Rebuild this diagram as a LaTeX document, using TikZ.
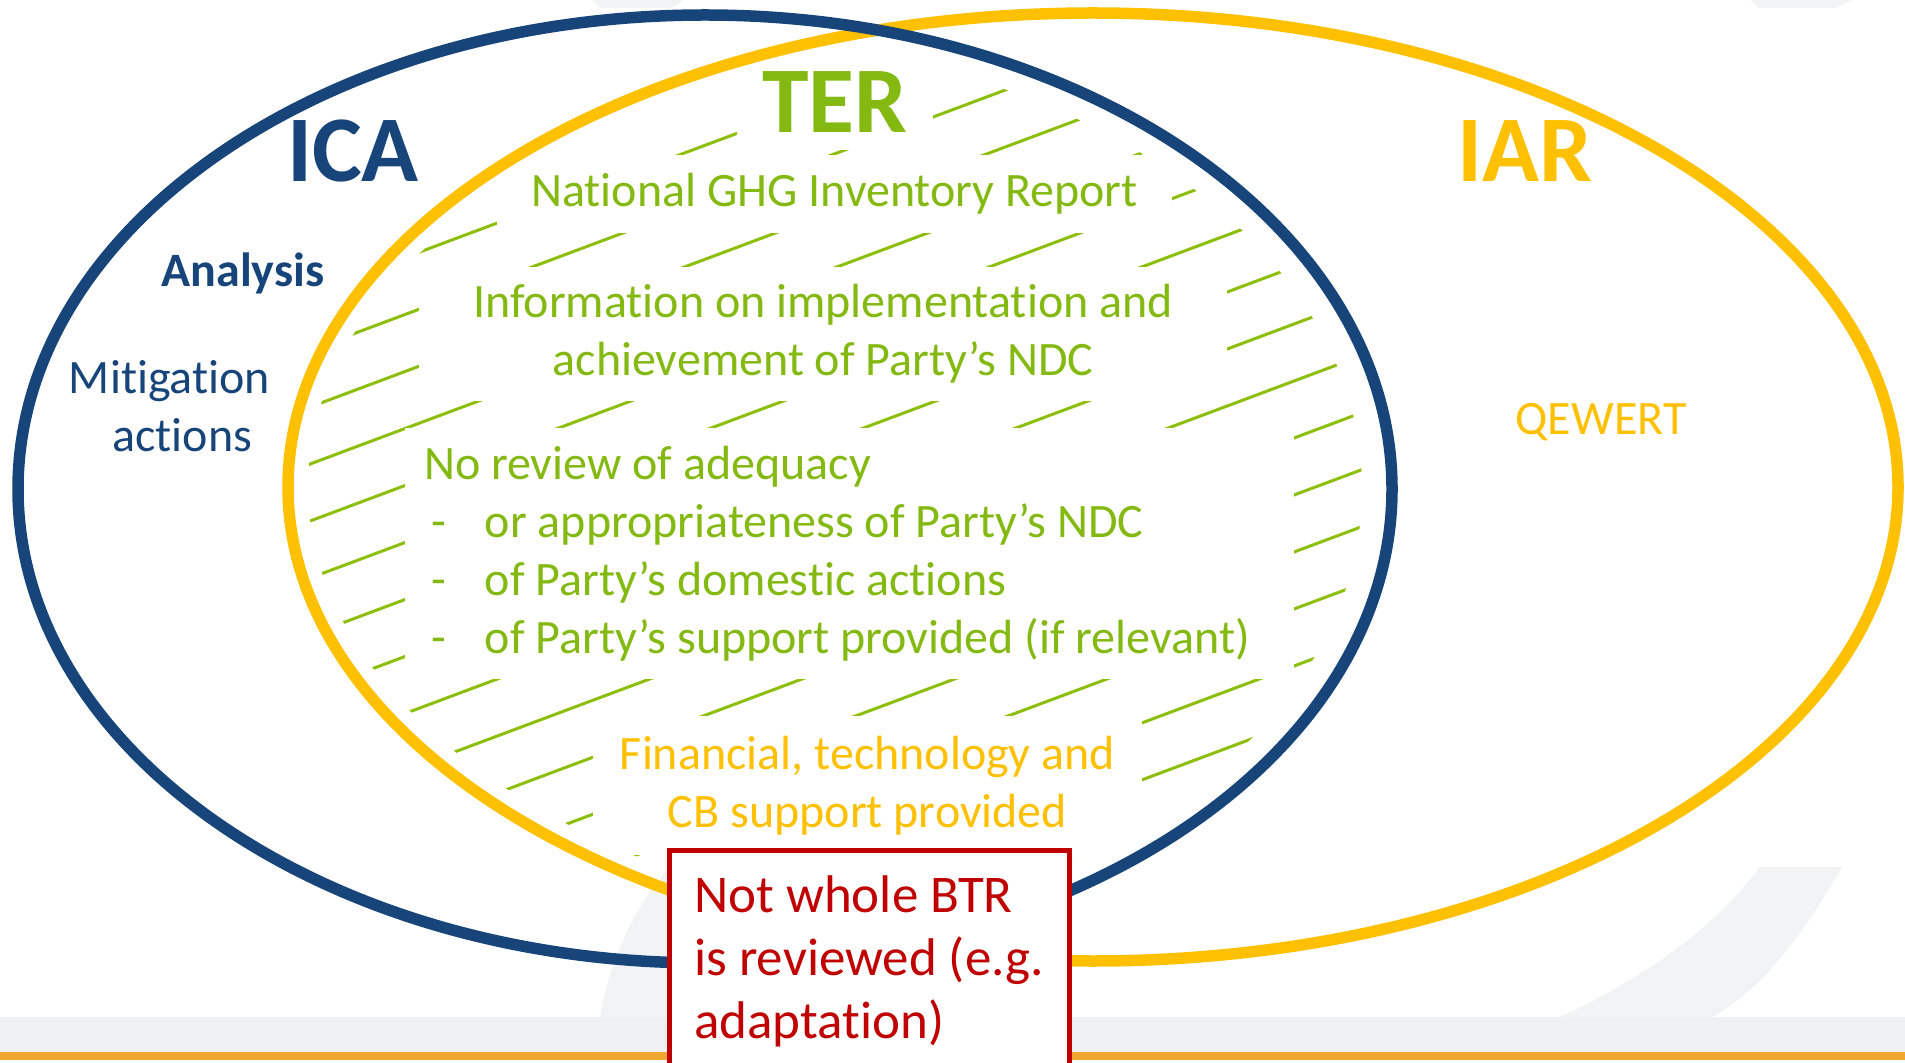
\documentclass[tikz,border=0pt]{standalone}
\usepackage{fontspec}
\setmainfont{Carlito}[Ligatures=NoCommon]
\usetikzlibrary{positioning}
\definecolor{icablue}{RGB}{23,69,122}
\definecolor{iaryellow}{RGB}{255,192,0}
\definecolor{tergreen}{RGB}{132,185,18}
\definecolor{hatchgreen}{RGB}{140,190,10}
\definecolor{btrred}{RGB}{192,0,0}
\definecolor{bandgray}{RGB}{239,240,241}
\definecolor{markgray}{RGB}{242,243,244}
\definecolor{bandorange}{RGB}{240,168,48}

\begin{document}
\begin{tikzpicture}[
    x=0.5pt, y=-0.5pt,
    ring/.style={line width=5.75pt},
    hatch/.style={draw=hatchgreen, line width=1.5pt},
    cover/.style={fill=white, inner sep=0pt, align=center},
    body/.style={font=\fontsize{24}{29}\selectfont},
    title/.style={font=\fontsize{47}{56}\selectfont\bfseries},
    redbox/.style={draw=btrred, line width=2.5pt, fill=white, text=btrred, align=flush left,
      minimum width=200pt, inner xsep=11pt, inner ysep=13pt, outer sep=0pt,
      font=\fontsize{26.5}{31.5}\selectfont}
  ]
    \useasboundingbox (0,0) rectangle (1905,1063);
    \fill[bandgray] (0,1017) rectangle (1905,1052);
    \fill[bandorange] (0,1052) rectangle (1905,1060);
    \fill[markgray] (1760,867) -- (1842,867) .. controls (1800,940) and (1760,990) .. (1713,1017)
      -- (1560,1017) .. controls (1660,970) and (1720,920) .. cycle;
    \fill[markgray] (600,1017) .. controls (612,950) and (640,900) .. (669,868) -- (669,1017) -- cycle;
    \fill[markgray] (1750,0) -- (1852,0) -- (1835,8) -- (1760,8) -- cycle;
    \fill[markgray] (592,0) -- (684,0) -- (672,8) -- (600,8) -- cycle;

    \coordinate (icac) at (705,489);
    \coordinate (iarc) at (1093,487);

    \begin{scope}
      \clip (icac) ellipse [x radius=657, y radius=449];
      \clip (iarc) ellipse [x radius=785, y radius=454];
      \foreach \c in {124,181,...,1492}
        \draw[hatch] (0,\c) -- (1905,\c-712.5);
    \end{scope}

    \node[cover, title, text=tergreen, minimum width=98pt, minimum height=47.5pt] (ter) at (835,102.5) {TER};
    \node[cover, body, text=tergreen, minimum width=337.5pt, minimum height=39pt] (ghg) at (834.5,194) {National GHG Inventory Report};
    \node[cover, body, text=tergreen, minimum width=404pt, minimum height=67pt] (ndc) at (823,334)
      {Information on implementation and\\achievement of Party’s NDC};
    \node[cover, body, text=tergreen, align=flush left, text width=425.5pt, inner xsep=9.5pt, minimum height=125.5pt] (noreview) at (849.5,553.5)
      {No review of adequacy\\
       \hspace*{3.5pt}\makebox[27pt][l]{-}or appropriateness of Party’s NDC\\
       \hspace*{3.5pt}\makebox[27pt][l]{-}of Party’s domestic actions\\
       \hspace*{3.5pt}\makebox[27pt][l]{-}of Party’s support provided (if relevant)};
    \node[cover, body, text=iaryellow, minimum width=274.5pt, minimum height=69.5pt] (support) at (867.5,785.5)
      {Financial, technology and\\CB support provided};

    \node[title, text=icablue, inner sep=0pt] (ica) at (353,151) {ICA};
    \node[title, text=iaryellow, inner sep=0pt] (iar) at (1525,151) {IAR};
    \node[body, text=icablue, font=\fontsize{24}{29}\selectfont\bfseries, inner sep=0pt] (analysis) at (243,273) {Analysis};
    \node[body, text=icablue, align=center, inner sep=0pt] (mitigation) at (169.5,406) {Mitigation\\\hspace*{12.8pt}actions};
    \node[body, text=iaryellow, inner sep=0pt] (qewert) at (1601,422) {QEWERT};

    \draw[ring, iaryellow] (iarc) ellipse [x radius=805, y radius=474];
    \draw[ring, icablue] (icac) ellipse [x radius=687, y radius=474];

    \node[redbox, anchor=north west] (btr) at (669,850) {Not whole BTR\\is reviewed (e.g.\\adaptation)};
  \end{tikzpicture}
\end{document}
